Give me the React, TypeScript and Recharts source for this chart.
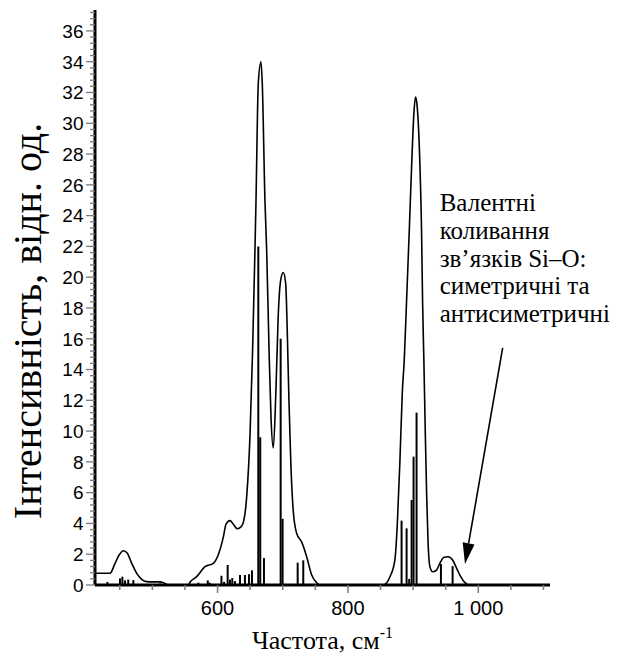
import React from 'react';
import { ComposedChart, Line, Scatter, ErrorBar, XAxis, YAxis, ReferenceLine, Label } from 'recharts';

// contour of the calculated band (frequency, cm-1 / intensity)
const envelopeFreq = [
  412, 435, 442.7, 449, 455.4, 461.6, 468.3, 476, 483.6, 491, 500, 511.7, 517, 524,
  555, 558, 568, 580.7, 593.5, 601, 609, 613, 619, 624, 630, 635, 639, 644.7, 649.7,
  653.8, 657.4, 659, 662.5, 666.6, 668.6, 672.7, 675.3, 679, 682, 685.5, 689.6, 693,
  696.8, 700.8, 704.5, 707, 709.5, 712.6, 716, 721.3, 729, 736.7, 744.4, 752, 757,
  854, 864.5, 872, 875.6, 879.8, 883.4, 886.4, 890, 894, 897.7, 901, 903.6, 906, 910.5,
  913, 914.5, 916.5, 918.5, 920.7, 923, 925.8, 930, 936, 941, 947.3, 954, 960.6, 966.8,
  973, 979.5, 985, 1110,
];
const envelopeInt = [
  0.76, 0.76, 1.4, 1.95, 2.23, 2.06, 1.41, 0.76, 0.37, 0.22, 0.2, 0.2, 0.15, 0,
  0, 0.2, 0.54, 1.19, 1.41, 1.95, 3.14, 3.96, 4.18, 3.96, 3.66, 3.75, 4.0, 5.74, 9.64,
  15.3, 21.8, 25, 32.6, 34.0, 32.6, 25, 21.8, 15.3, 10.9, 8.9, 12.7, 17.4,
  19.8, 20.3, 19.6, 16.4, 12, 7.7, 4.87, 3.36, 2.8, 1.84, 0.65, 0.15, 0,
  0, 0.54, 1.62, 3.8, 8.1, 12.5, 14.6, 18.5, 22.9, 27.2, 30.5, 31.7, 31.2, 27.2,
  22.9, 18.5, 14.6, 10.3, 5.96, 2.7, 1.19, 0.86, 0.97, 1.41, 1.8, 1.84, 1.62, 1.08,
  0.54, 0.15, 0, 0,
];

// individual normal modes
const stickFreq = [
  431, 450.3, 454, 458, 463, 470.8, 511.7, 570.5, 585, 588, 606, 610, 615.5, 619,
  622.6, 626.7, 634.4, 642, 648.2, 652.8, 662.5, 665.5, 671.2, 696.8, 699.8, 722.9,
  731.5, 882.3, 890, 894, 897.7, 900.7, 905.3, 942.7, 960.6,
];
const stickInt = [
  0.2, 0.43, 0.54, 0.3, 0.35, 0.32, 0.1, 0.15, 0.3, 0.15, 0.6, 0.2, 1.3, 0.35,
  0.45, 0.25, 0.65, 0.65, 0.7, 0.95, 22.0, 9.6, 1.75, 16.0, 4.3, 1.45,
  1.6, 4.18, 3.68, 0.4, 5.52, 8.34, 11.2, 1.36, 1.23,
];

const xTicks = [450, 500, 550, 600, 650, 700, 750, 800, 850, 900, 950, 1000, 1050, 1100];
const xLabelTicks = [600, 800, 1000];
const xLabelText = ['600', '800', '1 000'];
const yLabelTicks = [0, 2, 4, 6, 8, 10, 12, 14, 16, 18, 20, 22, 24, 26, 28, 30, 32, 34, 36];
const yTicks = Array.from({ length: 94 }, (_, i) => Math.round(i * 4) / 10);

const noteLines = ['Валентні', 'коливання', 'зв’язків Si–O:', 'симетричні та', 'антисиметричні'];
const arrowFrom = { x: 1037.4, y: 15.4 };
const arrowTo = { x: 979.6, y: 1.36 };

const envelope = envelopeFreq.map((x, i) => ({ x, y: envelopeInt[i] }));
const sticks = stickFreq.map((x, i) => ({ x, y: stickInt[i], err: [stickInt[i], 0] }));

const SANS = '"Liberation Sans", Arial, sans-serif';
const SERIF = '"Liberation Serif", "Times New Roman", serif';
const TICK_GREY = '#7a7a7a';

const XTick = (props: any) => {
  const { x, y, payload } = props;
  const idx = xLabelTicks.indexOf(payload.value);
  const major = idx >= 0;
  return (
    <g>
      <line x1={x} x2={x} y1={y} y2={y + (major ? 8 : 5)} stroke={TICK_GREY} strokeWidth={1.5} />
      {major && (
        <text x={x} y={y + 30} textAnchor="middle" style={{ fontFamily: SANS, fontSize: 20 }} fill="#000">
          {xLabelText[idx]}
        </text>
      )}
    </g>
  );
};

const YTick = (props: any) => {
  const { x, y, payload } = props;
  const major = yLabelTicks.includes(payload.value);
  return (
    <g>
      <line x1={x - (major ? 9 : 5)} x2={x} y1={y} y2={y} stroke={TICK_GREY} strokeWidth={1.3} />
      {major && (
        <text x={x - 11.5} y={y} dy="0.36em" textAnchor="end" style={{ fontFamily: SANS, fontSize: 19 }} fill="#000">
          {payload.value}
        </text>
      )}
    </g>
  );
};

const XTitle = ({ viewBox }: any) => (
  <text
    x={viewBox.x + viewBox.width / 2}
    y={viewBox.y + 64}
    textAnchor="middle"
    style={{ fontFamily: SERIF, fontSize: 26 }}
    fill="#000"
  >
    Частота, см<tspan dy={-11} style={{ fontSize: 16 }}>-1</tspan>
  </text>
);

const YTitle = () => (
  <text
    x={41}
    y={321}
    transform="rotate(-90 41 321)"
    textAnchor="middle"
    style={{ fontFamily: SERIF, fontSize: 40 }}
    fill="#000"
  >
    Інтенсивність, відн. од.
  </text>
);

// arrow with the caption above its tail
const NoteArrow = (props: any) => {
  const { x1, y1, x2, y2 } = props;
  const dx = x2 - x1;
  const dy = y2 - y1;
  const len = Math.sqrt(dx * dx + dy * dy);
  const ux = dx / len;
  const uy = dy / len;
  const headLen = 21;
  const headHalf = 6;
  const bx = x2 - ux * headLen;
  const by = y2 - uy * headLen;
  const head = `${x2},${y2} ${bx + uy * headHalf},${by - ux * headHalf} ${bx - uy * headHalf},${by + ux * headHalf}`;
  return (
    <g>
      <line x1={x1} y1={y1} x2={bx} y2={by} stroke="#000" strokeWidth={1.6} />
      <polygon points={head} fill="#000" />
      {noteLines.map((t, i) => (
        <text
          key={i}
          x={x1 - 63}
          y={y1 - 136.6 + i * 27.7}
          style={{ fontFamily: SERIF, fontSize: 25 }}
          fill="#000"
        >
          {t}
        </text>
      ))}
    </g>
  );
};

export default function App() {
  return (
    <div style={{ position: 'absolute', left: 0, top: 0, background: '#fff' }}>
      <ComposedChart width={619} height={662} margin={{ top: 10, right: 69, bottom: 0, left: 0 }}>
        <XAxis
          dataKey="x"
          type="number"
          domain={[412, 1110]}
          ticks={xTicks}
          interval={0}
          allowDataOverflow
          height={77}
          tickSize={0}
          tickMargin={0}
          tickLine={false}
          tick={<XTick />}
          axisLine={{ stroke: '#000', strokeWidth: 3 }}
          label={<Label content={XTitle} />}
        />
        <YAxis
          type="number"
          domain={[0, 37.36]}
          ticks={yTicks}
          interval={0}
          allowDataOverflow
          width={95}
          tickSize={0}
          tickMargin={0}
          tickLine={false}
          tick={<YTick />}
          axisLine={{ stroke: '#000', strokeWidth: 3 }}
          label={<Label content={YTitle} />}
        />
        <Scatter data={sticks} dataKey="y" shape={() => <g />} isAnimationActive={false}>
          <ErrorBar dataKey="err" direction="y" width={0} stroke="#000" strokeWidth={2} isAnimationActive={false} />
        </Scatter>
        <Line
          data={envelope}
          dataKey="y"
          type="monotone"
          stroke="#000"
          strokeWidth={1.6}
          dot={false}
          activeDot={false}
          isAnimationActive={false}
        />
        <ReferenceLine segment={[arrowFrom, arrowTo]} shape={NoteArrow} ifOverflow="visible" />
      </ComposedChart>
    </div>
  );
}
